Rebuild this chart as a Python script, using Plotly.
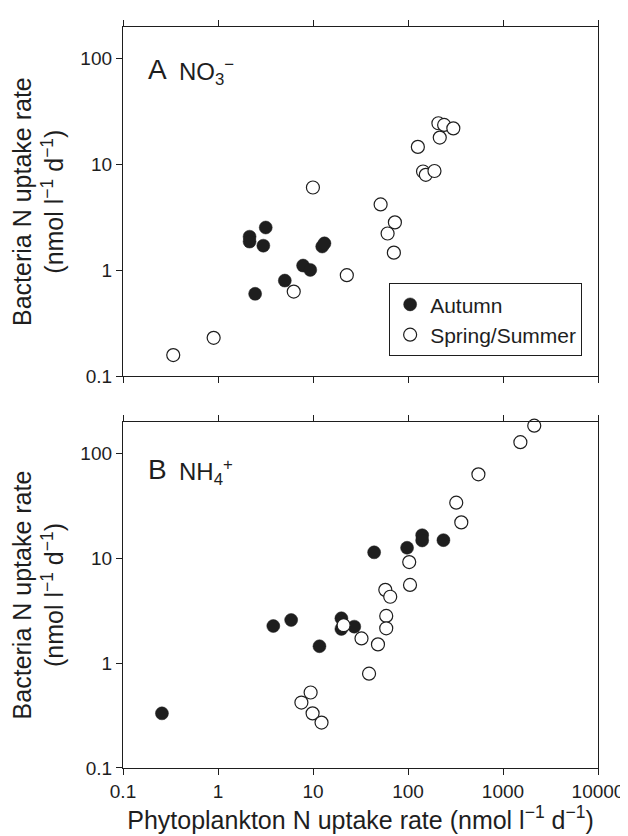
import plotly.graph_objects as go

# ---------------- data ----------------
# Panel A (NO3-)
a_autumn_x = [2.15, 2.15, 3.18, 3.0, 2.46, 5.05, 7.86, 9.36, 12.5, 13.2]
a_autumn_y = [2.08, 1.87, 2.54, 1.71, 0.60, 0.80, 1.11, 1.01, 1.68, 1.80]
a_spring_x = [0.338, 0.90, 6.27, 9.98, 22.7, 51.5, 72.8, 61, 71, 127, 144, 154, 190, 209, 240, 300, 216]
a_spring_y = [0.158, 0.23, 0.63, 6.07, 0.90, 4.2, 2.84, 2.23, 1.47, 14.7, 8.6, 8.0, 8.7, 24.6, 23.7, 22.0, 18.0]

# Panel B (NH4+)
b_autumn_x = [0.257, 3.82, 5.89, 11.7, 19.9, 19.9, 27.2, 44, 97.8, 141, 141, 236]
b_autumn_y = [0.332, 2.26, 2.58, 1.45, 2.68, 2.12, 2.23, 11.4, 12.6, 16.6, 14.8, 14.9]
b_spring_x = [2133, 1524, 551, 322, 364, 103, 105, 57.7, 65, 59, 59, 21, 32.4, 48.3, 38.9, 9.44, 7.55, 9.9, 12.3]
b_spring_y = [184, 128, 63.2, 33.9, 22.0, 9.2, 5.57, 5.0, 4.3, 2.82, 2.15, 2.3, 1.72, 1.51, 0.794, 0.525, 0.421, 0.332, 0.271]

x_tickvals = [0.1, 1, 10, 100, 1000, 10000]
x_ticktext = ["0.1", "1", "10", "100", "1000", "10000"]
y_tickvals = [0.1, 1, 10, 100]
y_ticktext = ["0.1", "1", "10", "100"]

series_names = ["Autumn", "Spring/Summer"]

FONT = "Liberation Sans, Arial, Helvetica, sans-serif"
INK = "#1e1e1e"

fig = go.Figure()

def add(x, y, name, filled, xa, ya, show):
    fig.add_trace(go.Scatter(
        x=x, y=y, mode="markers", name=name, xaxis=xa, yaxis=ya,
        showlegend=show, legendgroup=name, cliponaxis=False,
        marker=dict(size=13, color=INK if filled else "white",
                    line=dict(color=INK, width=1.2 if not filled else 0.5)),
    ))

add(a_autumn_x, a_autumn_y, series_names[0], True, "x", "y", True)
add(a_spring_x, a_spring_y, series_names[1], False, "x", "y", True)
add(b_autumn_x, b_autumn_y, series_names[0], True, "x2", "y2", False)
add(b_spring_x, b_spring_y, series_names[1], False, "x2", "y2", False)

xaxis_common = dict(type="log", range=[-1, 4], tickvals=x_tickvals, ticktext=x_ticktext,
                    ticks="outside", ticklen=6, tickwidth=1.3, tickcolor=INK,
                    showline=True, linecolor=INK, linewidth=1.3, mirror="ticks",
                    showgrid=False, zeroline=False,
                    tickfont=dict(family=FONT, size=19, color=INK))
yaxis_common = dict(type="log", range=[-1, 2.301], tickvals=y_tickvals, ticktext=y_ticktext,
                    ticks="outside", ticklen=6, tickwidth=1.3, tickcolor=INK,
                    showline=True, linecolor=INK, linewidth=1.3, mirror=True,
                    showgrid=False, zeroline=False,
                    tickfont=dict(family=FONT, size=19, color=INK))

ytitle = "Bacteria N uptake rate<br>(nmol l<sup>−1</sup> d<sup>−1</sup>)"

fig.update_layout(
    width=628, height=836,
    margin=dict(l=115, r=34, t=15, b=76),
    paper_bgcolor="white", plot_bgcolor="white",
    font=dict(family=FONT, color=INK),
    xaxis=dict(xaxis_common, domain=[0, 1], anchor="y", showticklabels=False),
    yaxis=dict(yaxis_common, domain=[0.5289, 1], anchor="x"),
    xaxis2=dict(xaxis_common, domain=[0, 1], anchor="y2",
                title=dict(text="Phytoplankton N uptake rate (nmol l<sup>−1</sup> d<sup>−1</sup>)",
                           font=dict(family=FONT, size=25, color=INK), standoff=10)),
    yaxis2=dict(yaxis_common, domain=[0, 0.4671], anchor="x2"),
    legend=dict(x=0.9666, y=0.5557, xanchor="right", yanchor="bottom",
                bordercolor=INK, borderwidth=1, bgcolor="white",
                font=dict(family=FONT, size=21, color=INK),
                tracegroupgap=0, itemwidth=30),
    showlegend=True,
)

annotations = [
    dict(text="A", xref="x domain", yref="y domain", x=0.048, y=0.879,
         xanchor="left", yanchor="middle", showarrow=False,
         font=dict(family=FONT, size=28, color=INK)),
    dict(text="NO<sub>3</sub><sup>−</sup>", xref="x domain", yref="y domain", x=0.113, y=0.872,
         xanchor="left", yanchor="middle", showarrow=False,
         font=dict(family=FONT, size=24, color=INK)),
    dict(text="B", xref="x2 domain", yref="y2 domain", x=0.048, y=0.861,
         xanchor="left", yanchor="middle", showarrow=False,
         font=dict(family=FONT, size=28, color=INK)),
    dict(text="NH<sub>4</sub><sup>+</sup>", xref="x2 domain", yref="y2 domain", x=0.113, y=0.854,
         xanchor="left", yanchor="middle", showarrow=False,
         font=dict(family=FONT, size=24, color=INK)),
    dict(text=ytitle, xref="paper", yref="y domain", x=-0.178, y=0.5,
         xanchor="center", yanchor="middle", textangle=-90, showarrow=False,
         font=dict(family=FONT, size=25, color=INK)),
    dict(text=ytitle, xref="paper", yref="y2 domain", x=-0.178, y=0.5,
         xanchor="center", yanchor="middle", textangle=-90, showarrow=False,
         font=dict(family=FONT, size=25, color=INK)),
]
fig.update_layout(annotations=annotations)

fig.write_html("out.html")
